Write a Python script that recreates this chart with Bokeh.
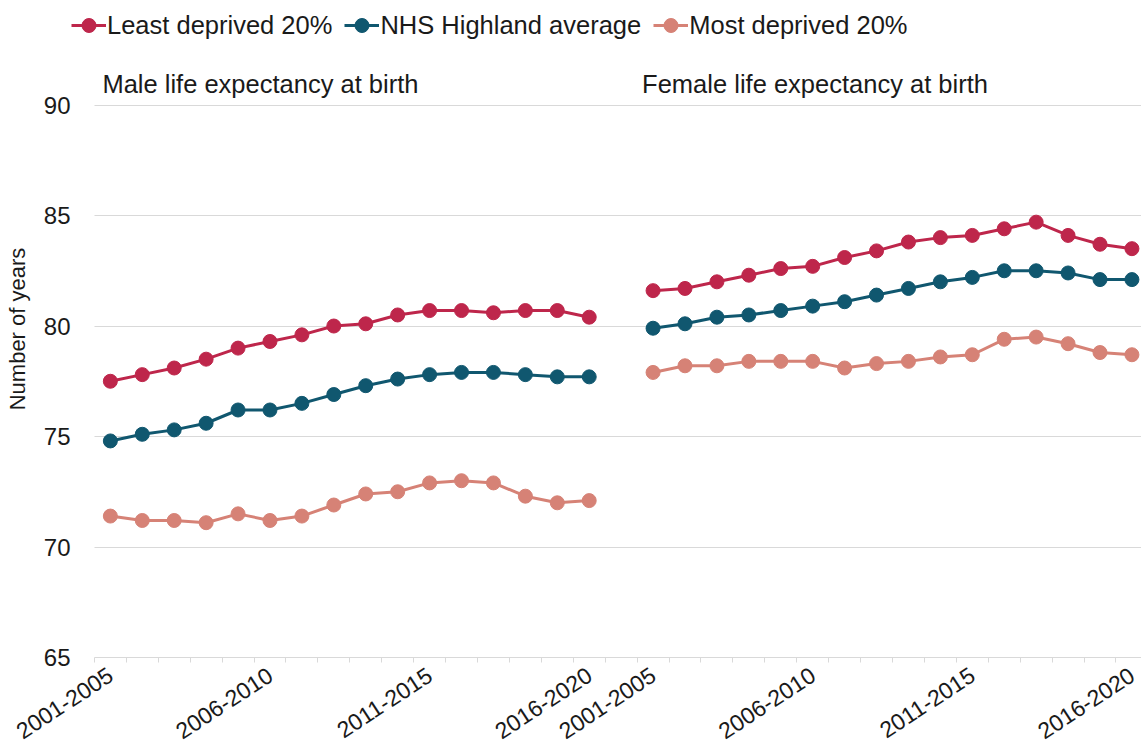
from bokeh.plotting import figure
from bokeh.models import Range1d, FixedTicker, Legend, LegendItem, Label
from bokeh.embed import file_html
from bokeh.resources import INLINE

# ---------------- data ----------------
periods = ["2001-2005", "2002-2006", "2003-2007", "2004-2008", "2005-2009",
           "2006-2010", "2007-2011", "2008-2012", "2009-2013", "2010-2014",
           "2011-2015", "2012-2016", "2013-2017", "2014-2018", "2015-2019",
           "2016-2020"]
tick_periods = ["2001-2005", "2006-2010", "2011-2015", "2016-2020"]

series_names = ["Least deprived 20%", "NHS Highland average", "Most deprived 20%"]

male_least = [77.5, 77.8, 78.1, 78.5, 79.0, 79.3, 79.6, 80.0, 80.1, 80.5,
              80.7, 80.7, 80.6, 80.7, 80.7, 80.4]
male_avg = [74.8, 75.1, 75.3, 75.6, 76.2, 76.2, 76.5, 76.9, 77.3, 77.6,
            77.8, 77.9, 77.9, 77.8, 77.7, 77.7]
male_most = [71.4, 71.2, 71.2, 71.1, 71.5, 71.2, 71.4, 71.9, 72.4, 72.5,
             72.9, 73.0, 72.9, 72.3, 72.0, 72.1]

female_least = [81.6, 81.7, 82.0, 82.3, 82.6, 82.7, 83.1, 83.4, 83.8, 84.0,
                84.1, 84.4, 84.7, 84.1, 83.7, 83.5]
female_avg = [79.9, 80.1, 80.4, 80.5, 80.7, 80.9, 81.1, 81.4, 81.7, 82.0,
              82.2, 82.5, 82.5, 82.4, 82.1, 82.1]
female_most = [77.9, 78.2, 78.2, 78.4, 78.4, 78.4, 78.1, 78.3, 78.4, 78.6,
               78.7, 79.4, 79.5, 79.2, 78.8, 78.7]

y_ticks = [65, 70, 75, 80, 85, 90]
panel_titles = ["Male life expectancy at birth", "Female life expectancy at birth"]
y_label = "Number of years"

# ---------------- styling ----------------
colors = ["#BE264B", "#10576F", "#D68276"]
FONT = "Liberation Sans"
TXT = "#1a1a1a"
GRID = "#d9d9d9"

n = len(periods)
male_x = list(range(n))
female_x = [n + 1 + i for i in range(n)]          # one empty slot between the panels
all_x = male_x + female_x
all_labels = periods + periods
x_lo, x_hi = -0.5, female_x[-1] + 0.5

# frame spans the full canvas height; the extra room above 90 holds legend and titles
p = figure(width=1141, height=749, output_backend="svg", toolbar_location=None,
           x_range=Range1d(-1.217, 32.3), y_range=Range1d(65, 94.73),
           min_border_left=71, min_border_top=0, min_border_bottom=89,
           min_border_right=0)
p.outline_line_color = None
p.background_fill_color = "white"

tick_pos = [x for x, lab in zip(all_x, all_labels) if lab in tick_periods]
boundaries = [x - 0.5 for x in range(female_x[-1] + 2)]
p.xaxis.ticker = FixedTicker(ticks=tick_pos, minor_ticks=boundaries)
p.xaxis.major_label_overrides = {x: lab for x, lab in zip(all_x, all_labels) if x in tick_pos}
p.xaxis.bounds = (x_lo, x_hi)
p.xaxis.major_tick_line_color = None
p.xaxis.major_tick_in = 0
p.xaxis.major_tick_out = 0
p.xaxis.minor_tick_line_color = GRID
p.xaxis.minor_tick_in = 0
p.xaxis.minor_tick_out = 5
p.xaxis.axis_line_color = GRID
p.xaxis.major_label_orientation = 0.58
p.xaxis.major_label_standoff = 10
p.xaxis.major_label_text_font = FONT
p.xaxis.major_label_text_font_size = "23px"
p.xaxis.major_label_text_color = TXT
p.xgrid.grid_line_color = None

p.yaxis.ticker = FixedTicker(ticks=y_ticks)
p.yaxis.axis_line_color = None
p.yaxis.major_tick_line_color = None
p.yaxis.minor_tick_line_color = None
p.yaxis.major_tick_in = 0
p.yaxis.major_tick_out = 0
p.yaxis.minor_tick_in = 0
p.yaxis.minor_tick_out = 0
p.yaxis.major_label_standoff = 1
p.yaxis.major_label_text_font = FONT
p.yaxis.major_label_text_font_size = "24px"
p.yaxis.major_label_text_color = TXT
p.yaxis.axis_label = y_label
p.yaxis.axis_label_text_font = FONT
p.yaxis.axis_label_text_font_size = "22px"
p.yaxis.axis_label_text_font_style = "normal"
p.yaxis.axis_label_text_color = TXT
p.yaxis.axis_label_standoff = 11
p.ygrid.grid_line_color = GRID
p.ygrid.grid_line_width = 1
p.ygrid.cross_bounds = (x_lo, x_hi)

items = []
male_series = [male_least, male_avg, male_most]
female_series = [female_least, female_avg, female_most]
for name, col, m, f in zip(series_names, colors, male_series, female_series):
    l1 = p.line(male_x, m, line_color=col, line_width=3)
    s1 = p.scatter(male_x, m, size=14, fill_color=col, line_color=col)
    p.line(female_x, f, line_color=col, line_width=3)
    p.scatter(female_x, f, size=14, fill_color=col, line_color=col)
    items.append(LegendItem(label=name, renderers=[l1, s1]))

legend = Legend(items=items, orientation="horizontal", location="top_left",
                glyph_width=35, glyph_height=50, label_height=50,
                label_standoff=1, spacing=12,
                padding=0, margin=0, border_line_color=None,
                background_fill_alpha=0, label_text_font=FONT,
                label_text_font_size="25.5px", label_text_color=TXT)
p.add_layout(legend, "center")

p.add_layout(Label(x=x_lo, y=y_ticks[-1], x_offset=8, y_offset=7, text=panel_titles[0],
                   text_font=FONT, text_font_size="25.5px", text_color=TXT))
p.add_layout(Label(x=female_x[0] - 0.5, y=y_ticks[-1], x_offset=5, y_offset=7,
                   text=panel_titles[1],
                   text_font=FONT, text_font_size="25.5px", text_color=TXT))

open("out.html", "w").write(file_html(p, INLINE))
